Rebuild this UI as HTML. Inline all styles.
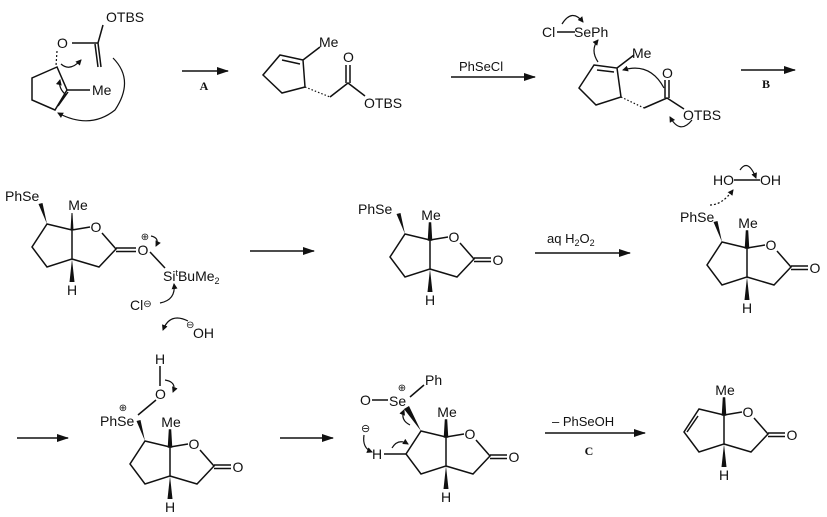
<!DOCTYPE html>
<html><head><style>
body{margin:0;background:#fff}
svg{display:block}
text{font-family:"Liberation Sans",sans-serif;font-size:14px;fill:#111}
.s{stroke:#111;stroke-width:1.5;fill:none}
.a{stroke:#111;stroke-width:1.2;fill:none}
</style></head><body>
<svg width="827" height="517" viewBox="0 0 827 517" xmlns="http://www.w3.org/2000/svg">
<defs>
<marker id="ah" markerWidth="12" markerHeight="8" refX="11" refY="4" orient="auto" markerUnits="userSpaceOnUse"><path d="M0,0 L12,4 L0,8 z" fill="#111"/></marker>
<marker id="sh" markerWidth="6" markerHeight="6" refX="5" refY="3" orient="auto" markerUnits="userSpaceOnUse"><path d="M0,0 L6,3 L0,6 z" fill="#111"/></marker>
<g id="lac">
<path class="s" d="M0,0 L-25,-6 L-40,17 L-25,37 L0,29 Z"/>
<path class="s" d="M0,0 L18,-3 M30,3 L44,19 L27,37 L0,29 M44,18 L61,18 M44,21.5 L61,21.5"/>
<text x="24" y="2" text-anchor="middle">O</text>
<text x="68" y="25" text-anchor="middle">O</text>
<path d="M-1.5,0 L1.5,0 L0.5,-17 L-0.5,-17 Z" fill="#111" stroke="#111" stroke-width="1.5"/>
<text x="1" y="-20" text-anchor="middle">Me</text>
<path d="M0,29 L-2.5,52 L2.5,52 Z" fill="#111"/>
<text x="0" y="65" text-anchor="middle">H</text>
</g>
<g id="se"><path d="M-25,-6 L-29.5,-27 L-33.5,-26 Z" fill="#111"/></g>
</defs>

<!-- Row 1 structure 1 -->
<text x="106" y="22">OTBS</text>
<path class="s" d="M98,43 L103,25 M72,43 L98,43 M98,43 L101,67 M95,44 L98,67"/>
<text x="57" y="48">O</text>
<path class="s" d="M57,67 L32,78 L32,100 L55,110 L67,90 Z M58,106 L68,92 M67,90 L90,90"/>
<path class="a" d="M57,51 L56,66" stroke-dasharray="2,2"/>
<text x="92" y="95">Me</text>
<path class="a" d="M61,64 Q70,72 81,60" marker-end="url(#sh)"/>
<path class="a" d="M66,95 Q58,88 60,80" marker-end="url(#sh)"/>
<path class="a" d="M113,58 Q135,80 115,110 Q90,130 58,113" marker-end="url(#sh)"/>
<line class="s" x1="182" y1="71" x2="228" y2="71" marker-end="url(#ah)"/>
<text x="204" y="90" text-anchor="middle" style="font-family:'Liberation Serif',serif;font-weight:bold;font-size:12px">A</text>

<!-- Row 1 structure 2 -->
<path class="s" d="M280,55 L303,60 L305,87 L282,93 L263,75 Z M282,60 L300,64 M303,60 L320,47"/>
<text x="319" y="47">Me</text>
<path class="a" d="M305,87 L330,97" stroke-dasharray="1.5,2"/>
<path class="s" d="M330,97 L348,83 L365,96 M346,83 L346,65 M350,83 L350,65"/>
<text x="343" y="62">O</text>
<text x="364" y="108">OTBS</text>
<line class="s" x1="451" y1="77" x2="535" y2="77" marker-end="url(#ah)"/>
<text x="459" y="71" style="font-size:13px">PhSeCl</text>

<!-- Row 1 structure 3 -->
<text x="542" y="37">Cl</text>
<path class="s" d="M557,32 L575,32"/>
<text x="574" y="37">SePh</text>
<path class="a" d="M562,24 Q572,8 583,22" marker-end="url(#sh)"/>
<path class="a" d="M598,62 Q590,50 598,40" marker-end="url(#sh)"/>
<path class="s" d="M594,65 L617,68 L621,97 L596,105 L579,88 Z M597,70 L614,72 M617,68 L634,55"/>
<text x="632" y="58">Me</text>
<path class="a" d="M621,97 L644,108" stroke-dasharray="1.5,2"/>
<path class="s" d="M644,108 L667,98 L684,109 M665,98 L665,80 M669,98 L669,80"/>
<text x="662" y="78">O</text>
<text x="683" y="120">OTBS</text>
<path class="a" d="M664,88 Q650,62 623,70" marker-end="url(#sh)"/>
<path class="a" d="M692,120 Q680,135 670,117" marker-end="url(#sh)"/>
<line class="s" x1="741" y1="70" x2="795" y2="70" marker-end="url(#ah)"/>
<text x="766" y="88" text-anchor="middle" style="font-family:'Liberation Serif',serif;font-weight:bold;font-size:12px">B</text>

<!-- Row 2 structure 1 -->
<g transform="translate(72,230)">
<path class="s" d="M0,0 L-25,-6 L-40,17 L-25,37 L0,29 Z M0,0 L18,-3 M30,3 L44,19 L27,37 L0,29 M44,18 L64,18 M44,21.5 L64,21.5"/>
<text x="24" y="2" text-anchor="middle">O</text>
<text x="71" y="25" text-anchor="middle">O</text>
<text x="73" y="10" text-anchor="middle" style="font-size:10px">⊕</text>
<path d="M-1.5,0 L1.5,0 L0.5,-17 L-0.5,-17 Z" fill="#111"/>
<text x="6" y="-20" text-anchor="middle">Me</text>
<path d="M0,29 L-2.5,52 L2.5,52 Z" fill="#111"/>
<text x="0" y="65" text-anchor="middle">H</text>
<use href="#se"/>
</g>
<text x="5" y="201">PhSe</text>
<path class="s" d="M150,252 L165,268"/>
<text x="163" y="281">Si<tspan dy="-5" font-size="9">t</tspan><tspan dy="5">BuMe</tspan><tspan dy="3" font-size="9">2</tspan></text>
<path class="a" d="M151,236 Q160,238 156,246" marker-end="url(#sh)"/>
<text x="130" y="310">Cl<tspan dy="-3" font-size="10">⊖</tspan></text>
<path class="a" d="M160,303 Q176,300 174,284" marker-end="url(#sh)"/>
<line class="s" x1="250" y1="251" x2="314" y2="251" marker-end="url(#ah)"/>

<!-- Row 2 structure 2 -->
<g transform="translate(430,240)"><use href="#lac"/><use href="#se"/></g>
<text x="358" y="214">PhSe</text>
<line class="s" x1="535" y1="253" x2="630" y2="253" marker-end="url(#ah)"/>
<text x="547" y="243" style="font-size:13px">aq H<tspan dy="3" font-size="9">2</tspan><tspan dy="-3">O</tspan><tspan dy="3" font-size="9">2</tspan></text>

<!-- Row 2 structure 3 -->
<g transform="translate(747,248)"><use href="#lac"/><use href="#se"/></g>
<text x="680" y="222">PhSe</text>
<text x="713" y="185">HO</text>
<path class="s" d="M734,180 L760,180"/>
<text x="760" y="185">OH</text>
<path class="a" d="M740,170 Q748,158 756,178" marker-end="url(#sh)"/>
<path class="a" d="M710,205 Q722,205 733,190" stroke-dasharray="2,2" marker-end="url(#sh)"/>

<!-- Row 3 -->
<text x="193" y="338">OH</text><text x="186" y="328" style="font-size:10px">⊖</text>
<path class="a" d="M188,321 Q170,312 163,330" marker-end="url(#sh)"/>
<line class="s" x1="17" y1="438" x2="68" y2="438" marker-end="url(#ah)"/>
<g transform="translate(170,447)"><use href="#lac"/><use href="#se"/></g>
<text x="100" y="426">PhSe</text>
<text x="123" y="411" text-anchor="middle" style="font-size:10px">⊕</text>
<text x="155" y="364">H</text>
<path class="s" d="M160,366 L160,386 M156,400 L138,415"/>
<text x="155" y="399">O</text>
<path class="a" d="M165,380 Q177,382 173,392" marker-end="url(#sh)"/>
<line class="s" x1="280" y1="438" x2="333" y2="438" marker-end="url(#ah)"/>

<g transform="translate(446,437)"><use href="#lac"/></g>
<text x="360" y="405">O</text>
<path class="s" d="M372,400 L388,400 M410,397 L424,385"/>
<path d="M421,431 L404,409 L409,406 Z" fill="#111"/>
<text x="389" y="406">Se</text>
<text x="402" y="391" text-anchor="middle" style="font-size:10px">⊕</text>
<text x="425" y="385">Ph</text>
<text x="361" y="432" style="font-size:11px">⊖</text>
<path class="a" d="M364,435 Q362,448 372,452" marker-end="url(#sh)"/>
<text x="372" y="459">H</text>
<path class="s" d="M384,454 L406,454"/>
<path class="a" d="M392,448 Q398,438 408,444" marker-end="url(#sh)"/>
<path class="a" d="M410,425 Q400,420 404,410" marker-end="url(#sh)"/>
<line class="s" x1="545" y1="433" x2="645" y2="433" marker-end="url(#ah)"/>
<text x="552" y="426" style="font-size:13px">– PhSeOH</text>
<text x="589" y="455" text-anchor="middle" style="font-family:'Liberation Serif',serif;font-weight:bold;font-size:12px">C</text>

<g transform="translate(724,415)"><use href="#lac"/>
<path class="s" d="M-26,1 L-37,17"/></g>
</svg>
</body></html>
